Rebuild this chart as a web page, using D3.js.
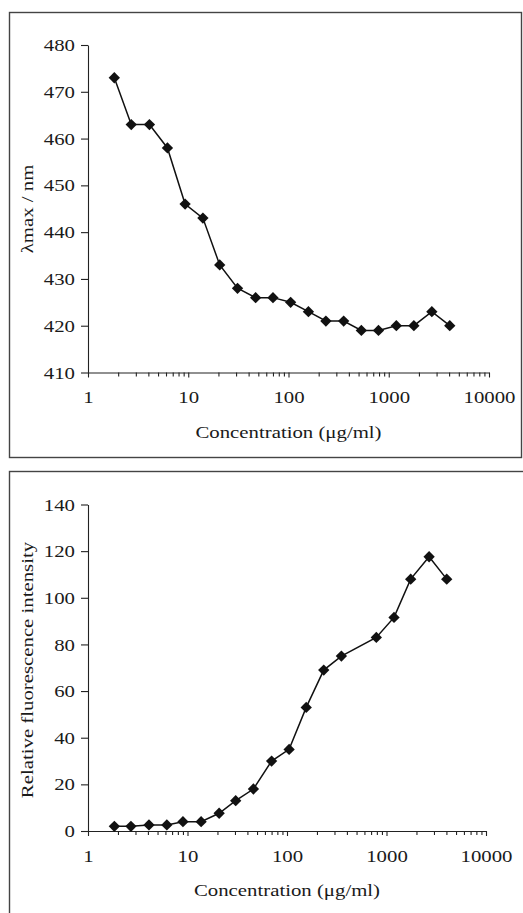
<!DOCTYPE html>
<html>
<head>
<meta charset="utf-8">
<script src="https://cdn.jsdelivr.net/npm/d3@7"></script>
<style>
  body { margin: 0; background: #fff; }
  svg { display: block; }
  text { font-family: "Liberation Serif", "DejaVu Serif", serif; fill: #1a1a1a; }
</style>
</head>
<body>
<div id="chart"></div>
<script>
// concentrations in ug/ml
const concTop = [1.83, 2.7, 4.1, 6.2, 9.3, 14, 20.6, 31, 47, 70, 105, 158, 236, 355, 533, 790, 1190, 1780, 2690, 4060]
const lambdaMax = [473, 463, 463, 458, 446, 443, 433, 428, 426, 426, 425, 423, 421, 421, 419, 419, 420, 420, 423, 420]

const concBottom = [1.84, 2.7, 4.1, 6.2, 9.0, 13.7, 20.8, 30.5, 46, 70, 105, 156, 234, 352, 790, 1190, 1750, 2680, 4030]
const fluorescence = [2, 2, 2.6, 2.6, 4, 4, 7.6, 13, 18, 30, 35, 53, 69, 75, 83, 91.6, 108, 117.6, 108]

const xMajor = [1, 10, 100, 1000, 10000]
const xMinor = [2, 3, 4, 5, 6, 7, 8, 9, 20, 30, 40, 50, 60, 70, 80, 90,
    200, 300, 400, 500, 600, 700, 800, 900, 2000, 3000, 4000, 5000, 6000, 7000, 8000, 9000]
const yTicksTop = [410, 420, 430, 440, 450, 460, 470, 480]
const yTicksBottom = [0, 20, 40, 60, 80, 100, 120, 140]

const SX = 1.3   // type in the picture is a bit wide
const FONT = 16

const svg = d3.select('#chart')
    .append('svg')
    .attr('width', 523)
    .attr('height', 913)

// panel frames
svg.append('rect')
    .attr('x', 9.5).attr('y', 12.5)
    .attr('width', 512).attr('height', 445)
    .attr('fill', 'none').attr('stroke', '#444').attr('stroke-width', 1.4)
svg.append('rect')
    .attr('x', 9.5).attr('y', 471.5)
    .attr('width', 530).attr('height', 460)
    .attr('fill', 'none').attr('stroke', '#444').attr('stroke-width', 1.4)

const drawPanel = (cfg) => {
    const x = d3.scaleLog().domain([1, 10000]).range(cfg.xRange)
    const y = d3.scaleLinear().domain(cfg.yDomain).range(cfg.yRange)
    const g = svg.append('g')
    const x0 = cfg.xRange[0]
    const y0 = cfg.yRange[0]

    // x axis: minor ticks then major ticks with labels
    const minor = g.append('g')
        .attr('transform', `translate(0,${y0})`)
        .call(d3.axisBottom(x).tickValues(xMinor).tickSize(4).tickFormat(''))
    minor.select('.domain').remove()
    const major = g.append('g')
        .attr('transform', `translate(0,${y0})`)
        .call(d3.axisBottom(x).tickValues(xMajor).tickSize(5).tickSizeOuter(0).tickFormat(d3.format('d')))
    major.selectAll('text')
        .attr('y', 31).attr('dy', 0)
        .attr('font-size', FONT)
        .attr('transform', `scale(${SX},1)`)

    // y axis
    const ya = g.append('g')
        .attr('transform', `translate(${x0},0)`)
        .call(d3.axisLeft(y).tickValues(cfg.yTicks).tickSize(7).tickSizeOuter(0))
    ya.selectAll('text')
        .attr('x', -13 / SX).attr('dy', '0.35em')
        .attr('font-size', FONT)
        .attr('transform', `scale(${SX},1)`)
    g.selectAll('.domain, .tick line').attr('stroke', '#222').attr('stroke-width', 1.1)

    // titles
    g.append('text')
        .attr('transform', `translate(${(cfg.xRange[0] + cfg.xRange[1]) / 2},${y0 + 65}) scale(${SX},1)`)
        .attr('text-anchor', 'middle')
        .attr('font-size', FONT)
        .text('Concentration (μg/ml)')
    g.append('text')
        .attr('transform', `translate(33,${cfg.yTitleY}) rotate(-90) scale(${SX},1)`)
        .attr('text-anchor', 'middle')
        .attr('font-size', FONT)
        .text(cfg.yTitle)

    // series
    const pts = cfg.xs.map((c, i) => [c, cfg.ys[i]])
    g.append('path')
        .datum(pts)
        .attr('fill', 'none')
        .attr('stroke', '#111')
        .attr('stroke-width', 1.5)
        .attr('d', d3.line().x(d => x(d[0])).y(d => y(d[1])))
    g.selectAll('.pt')
        .data(pts)
        .enter()
            .append('path')
            .attr('class', 'pt')
            .attr('d', d3.symbol(d3.symbolSquare, 64))
            .attr('fill', '#111')
            .attr('transform', d => `translate(${x(d[0])},${y(d[1])}) rotate(45)`)
}

drawPanel({
    xRange: [88, 489], yDomain: [410, 480], yRange: [372.5, 45],
    yTicks: yTicksTop, xs: concTop, ys: lambdaMax,
    yTitle: 'λmax / nm', yTitleY: 209
})
drawPanel({
    xRange: [88, 486], yDomain: [0, 140], yRange: [831, 504.5],
    yTicks: yTicksBottom, xs: concBottom, ys: fluorescence,
    yTitle: 'Relative fluorescence intensity', yTitleY: 670
})
</script>
</body>
</html>
